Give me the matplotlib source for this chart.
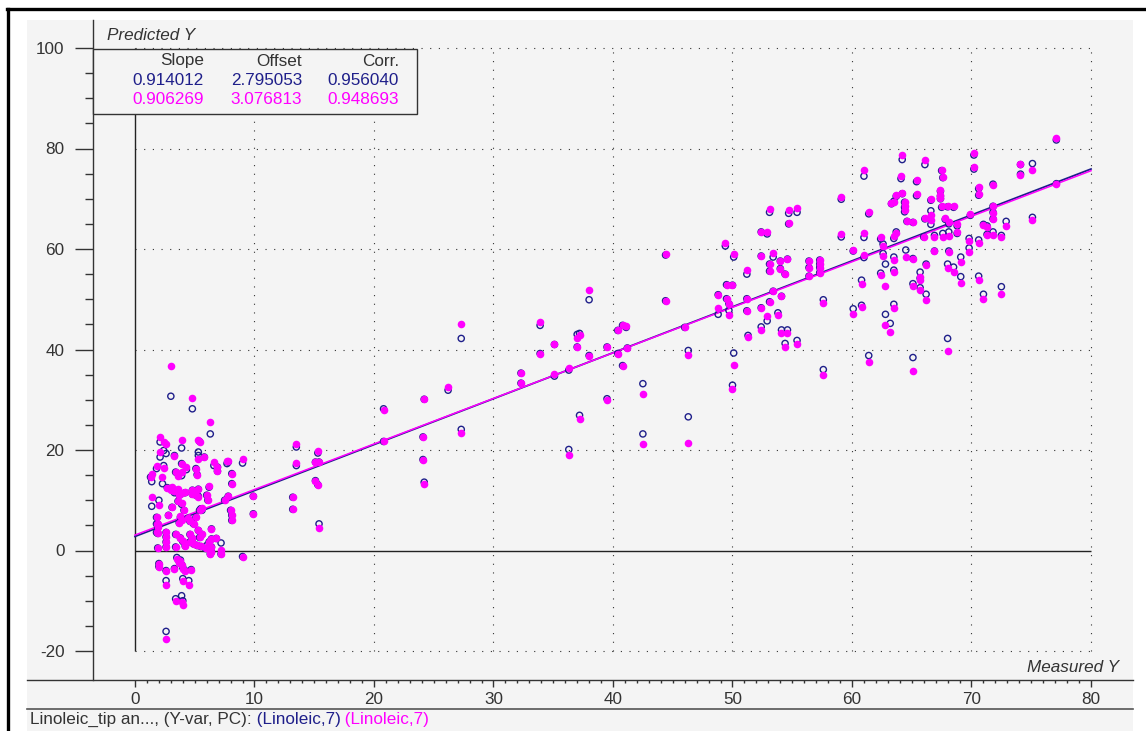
import numpy as np
import matplotlib.pyplot as plt
from matplotlib.lines import Line2D
from matplotlib.patches import Rectangle

plt.rcParams['font.family'] = ['Liberation Sans', 'DejaVu Sans']
plt.rcParams['axes.unicode_minus'] = False

# measured vs predicted, cluster of low values (x < 10)
meas_low = [3.0, 4.8, 6.3, 2.1, 2.4, 2.6, 3.9, 5.3, 5.4, 2.1,
            3.3, 5.8, 5.3, 1.8, 2.4, 1.4, 2.3, 3.4, 3.9, 3.6,
            3.9, 4.3, 5.1, 5.2, 6.6, 6.9, 6.9, 6.2, 7.7, 7.8,
            8.1, 8.1, 2.7, 3.0, 3.3, 3.6, 3.9, 3.7, 4.2, 3.1,
            4.8, 4.8, 5.1, 5.3, 5.3, 6.0, 6.1, 1.4, 2.0, 3.1,
            3.6, 3.9, 4.1, 3.8, 3.9, 3.7, 2.8, 1.9, 1.9, 1.9,
            1.9, 2.6, 2.6, 2.6, 2.6, 3.4, 3.4, 3.8, 4.0, 4.2,
            4.4, 4.6, 4.9, 5.1, 5.4, 5.5, 5.6, 5.3, 5.6, 5.4,
            4.6, 4.8, 4.6, 4.9, 5.2, 5.5, 5.9, 6.0, 6.3, 6.3,
            6.4, 6.4, 6.2, 6.4, 6.4, 7.2, 7.2, 6.8, 8.0, 8.1,
            8.1, 7.8, 7.5, 9.0, 2.0, 2.0, 2.6, 3.3, 3.5, 3.7,
            3.9, 4.0, 4.2, 3.8, 4.7, 4.0, 4.5, 2.6, 3.4, 3.9,
            4.0, 2.6, 1.3, 1.8, 1.8, 1.8]
pred1_low = [30.7, 28.2, 23.2, 21.6, 19.9, 19.3, 20.4, 19.6, 21.7, 18.6,
             18.9, 18.6, 18.9, 16.3, 16.9, 13.7, 13.3, 15.6, 14.9, 15.2,
             17.3, 16.1, 16.3, 15.1, 16.9, 16.6, 15.8, 12.6, 17.3, 17.6,
             15.3, 13.3, 12.5, 12.2, 11.5, 12.0, 11.3, 11.0, 11.5, 12.4,
             12.0, 11.2, 11.0, 12.2, 10.8, 11.0, 10.0, 8.8, 10.0, 8.6,
             9.8, 9.2, 8.0, 6.6, 6.2, 5.5, 7.0, 5.3, 4.6, 3.4,
             0.5, 3.6, 2.7, 1.7, 0.7, 3.2, 0.7, 2.5, 1.8, 0.9,
             6.4, 5.8, 5.3, 6.6, 8.0, 8.3, 8.0, 4.0, 3.2, 2.6,
             3.2, 2.4, 1.7, 1.3, 1.0, 0.8, 0.4, 1.0, 0.0, -0.7,
             2.3, 4.3, 1.7, 0.7, -0.3, 1.5, -0.7, 2.4, 8.0, 7.0,
             6.0, 10.8, 10.0, -1.2, -2.6, -3.2, -4.0, -3.6, -1.4, -2.2,
             -2.8, -3.4, -4.0, -1.9, -3.8, -5.6, -6.0, -6.0, -9.6, -9.0,
             -10.0, -16.1, 14.6, 6.6, 5.3, 3.6]
pred2_low = [36.7, 30.4, 25.6, 22.6, 21.6, 21.1, 21.9, 21.9, 21.5, 19.6,
             18.9, 18.6, 18.3, 16.9, 16.5, 15.3, 14.6, 15.6, 15.6, 14.9,
             17.3, 16.6, 16.3, 15.1, 17.6, 16.6, 15.8, 12.9, 17.9, 17.9,
             15.3, 13.3, 12.5, 12.0, 11.8, 12.2, 11.5, 11.0, 11.6, 12.7,
             12.0, 11.3, 11.0, 12.3, 10.7, 11.0, 10.0, 10.6, 9.0, 8.6,
             9.8, 9.4, 8.0, 6.8, 6.0, 5.5, 7.0, 5.3, 4.6, 3.4,
             0.5, 3.6, 2.7, 1.7, 0.7, 3.2, 0.7, 2.5, 1.8, 0.9,
             6.4, 5.8, 5.3, 6.6, 8.0, 8.2, 8.4, 4.0, 3.2, 2.6,
             3.2, 2.4, 1.7, 1.3, 1.0, 0.8, 0.4, 0.6, 0.0, -0.7,
             2.3, 4.3, 1.7, 0.7, -0.3, 0.1, -0.7, 2.4, 8.0, 7.0,
             6.0, 10.8, 10.0, -1.2, -2.6, -3.2, -4.0, -3.6, -1.6, -2.4,
             -2.9, -3.6, -4.0, -2.1, -3.8, -6.0, -6.8, -6.8, -10.0, -10.3,
             -10.8, -17.6, 14.6, 6.6, 5.3, 3.6]

# 9 < x < 47
meas_mid = [9.0, 9.9, 9.9, 13.5, 13.5, 13.2, 13.2, 15.3, 15.1, 15.4,
            15.1, 15.3, 15.4, 20.8, 20.8, 24.2, 24.1, 24.1, 24.2, 26.2,
            27.3, 27.3, 44.4, 44.4, 38.0, 33.9, 37.0, 37.2, 35.1, 33.9,
            37.0, 38.0, 39.5, 40.4, 40.8, 41.1, 41.2, 40.4, 40.8, 35.1,
            36.3, 32.3, 32.3, 39.5, 42.5, 37.2, 42.5, 36.3, 46.0, 46.3,
            46.3]
pred1_mid = [17.4, 10.8, 7.3, 20.6, 16.9, 10.6, 8.2, 19.4, 17.6, 17.6,
             13.9, 13.1, 5.3, 28.2, 21.7, 30.1, 22.6, 18.1, 13.6, 31.9,
             24.1, 42.2, 58.8, 49.7, 49.9, 44.8, 43.0, 43.2, 41.0, 39.2,
             40.5, 38.8, 40.5, 43.8, 44.8, 44.4, 40.3, 39.2, 36.8, 34.7,
             35.9, 35.3, 33.3, 30.2, 33.2, 26.9, 23.2, 20.1, 44.4, 39.8,
             26.6]
pred2_mid = [18.3, 10.8, 7.3, 21.1, 17.4, 10.6, 8.2, 19.8, 17.6, 17.6,
             13.9, 13.1, 4.4, 28.0, 21.7, 30.1, 22.6, 18.1, 13.3, 32.5,
             23.4, 45.0, 59.0, 49.7, 51.8, 45.5, 42.3, 42.8, 41.0, 39.2,
             40.5, 38.8, 40.5, 43.8, 44.8, 44.6, 40.3, 39.2, 36.8, 35.2,
             36.4, 35.3, 33.3, 29.9, 31.2, 26.2, 21.1, 19.1, 44.4, 39.0,
             21.3]

# 47 < x < 60
meas_upper = [49.4, 50.1, 52.4, 52.9, 53.1, 54.7, 55.4, 54.7, 59.1, 59.1,
              52.4, 53.4, 54.0, 54.0, 54.6, 53.1, 53.1, 54.4, 51.2, 56.4,
              56.4, 56.4, 57.3, 57.3, 57.3, 57.3, 49.5, 50.0, 48.8, 49.5,
              49.7, 48.8, 49.7, 51.2, 51.2, 52.4, 53.1, 53.4, 54.1, 53.8,
              52.9, 52.4, 54.1, 54.6, 51.3, 54.4, 55.4, 57.6, 57.6, 50.1,
              50.0]
pred1_upper = [60.6, 58.4, 63.4, 63.0, 67.3, 67.1, 67.3, 65.0, 69.9, 62.4,
               58.6, 58.4, 57.6, 56.1, 58.0, 57.0, 55.6, 55.0, 55.0, 57.6,
               56.3, 54.6, 57.8, 57.0, 56.3, 55.3, 52.9, 52.8, 50.9, 50.1,
               49.1, 47.0, 47.8, 50.1, 47.7, 48.3, 49.5, 51.6, 50.6, 47.3,
               45.7, 44.5, 43.9, 43.9, 42.8, 41.2, 41.8, 49.9, 36.0, 39.3,
               32.9]
pred2_upper = [61.2, 59.0, 63.4, 63.4, 67.9, 67.7, 68.2, 65.2, 70.3, 62.9,
               58.6, 59.2, 57.6, 56.1, 58.0, 57.0, 55.6, 55.0, 55.8, 57.6,
               56.3, 54.6, 57.8, 57.0, 56.3, 55.3, 52.9, 52.8, 50.9, 50.1,
               49.1, 48.3, 46.8, 50.1, 47.7, 48.3, 49.5, 51.6, 50.6, 46.8,
               46.6, 43.9, 43.3, 43.3, 42.4, 40.5, 41.0, 49.3, 34.9, 36.9,
               32.2]

# x > 60
meas_high = [61.0, 64.2, 66.1, 70.2, 70.2, 74.1, 74.1, 75.1, 64.1, 65.4,
             67.5, 67.6, 63.7, 64.2, 63.3, 63.5, 65.4, 64.4, 64.4, 64.4,
             66.6, 67.4, 67.4, 67.4, 61.4, 66.6, 66.1, 64.6, 65.1, 66.6,
             67.8, 67.5, 68.0, 68.5, 68.1, 68.8, 71.8, 71.8, 71.8, 70.6,
             70.6, 71.8, 69.9, 71.0, 71.3, 72.9, 71.8, 71.3, 72.5, 75.1,
             68.8, 68.1, 67.6, 66.9, 66.0, 63.7, 63.5, 62.4, 62.6, 61.0,
             60.1, 61.0, 62.6, 63.5, 64.5, 65.1, 66.9, 68.1, 69.1, 69.8,
             69.8, 70.6, 66.2, 62.8, 62.4, 63.5, 65.7, 65.7, 65.7, 65.1,
             68.0, 68.5, 69.1, 70.6, 60.8, 60.8, 60.1, 66.2, 63.5, 62.8,
             63.2, 71.0, 72.5, 61.4, 65.1, 68.0, 77.1, 77.1]
pred1_high = [74.5, 77.8, 76.8, 78.7, 75.9, 76.8, 74.9, 77.0, 74.0, 73.4,
              75.6, 74.2, 70.5, 71.0, 69.0, 69.5, 70.6, 69.3, 68.3, 67.4,
              69.7, 71.5, 70.5, 70.0, 67.0, 67.6, 66.0, 65.5, 65.3, 64.9,
              65.9, 68.3, 68.4, 68.3, 65.0, 64.6, 68.5, 67.3, 66.0, 72.0,
              70.7, 72.9, 66.7, 64.9, 64.6, 65.5, 63.4, 62.9, 62.7, 66.3,
              63.1, 63.4, 63.1, 62.7, 62.4, 63.4, 62.1, 62.0, 61.0, 62.3,
              59.6, 58.3, 59.1, 58.4, 59.8, 58.1, 59.6, 59.6, 58.4, 62.1,
              60.2, 61.8, 57.0, 57.0, 55.2, 55.8, 55.4, 54.2, 52.3, 53.1,
              57.0, 56.4, 54.5, 54.6, 53.8, 48.8, 48.1, 51.0, 49.0, 47.0,
              45.2, 51.0, 52.5, 38.8, 38.4, 42.2, 81.7, 73.0]
pred2_high = [75.7, 78.8, 77.7, 79.2, 76.4, 77.0, 74.7, 75.7, 74.5, 73.7,
              75.8, 74.4, 70.7, 71.2, 69.2, 69.3, 70.9, 69.4, 68.5, 67.7,
              69.9, 71.7, 70.7, 70.1, 67.3, 66.7, 66.2, 65.5, 65.3, 65.7,
              66.1, 68.5, 68.5, 68.5, 65.3, 64.9, 68.5, 67.1, 65.9, 72.3,
              70.9, 72.7, 66.9, 64.7, 64.4, 64.5, 62.7, 62.7, 62.3, 65.7,
              63.3, 62.6, 62.3, 62.3, 62.4, 63.1, 62.5, 62.3, 60.6, 63.2,
              59.8, 58.8, 58.6, 57.8, 58.4, 58.0, 59.6, 59.4, 57.4, 61.6,
              59.4, 61.2, 56.8, 52.7, 54.8, 55.4, 54.5, 53.8, 51.8, 52.7,
              56.2, 55.4, 53.3, 53.9, 53.1, 48.5, 47.0, 49.8, 48.3, 44.8,
              43.4, 50.0, 51.0, 37.5, 35.7, 39.8, 82.0, 73.0]

stats_header = ['Slope', 'Offset', 'Corr.']
stats_blue = [0.914012, 2.795053, 0.956040]
stats_mag = [0.906269, 3.076813, 0.948693]

BLUE = '#1f1f8a'
MAG = '#ff00ff'
DARK = '#333333'
PANEL = '#f4f4f4'
FS = 12.3

meas = meas_low + meas_mid + meas_upper + meas_high
pred1 = pred1_low + pred1_mid + pred1_upper + pred1_high
pred2 = pred2_low + pred2_mid + pred2_upper + pred2_high

W, H = 1146, 731
# pixel scale of the reference window
X0_PX, X_PPU = 135.0, 11.95
Y0_PX, Y_PPU = 550.5, 5.025


def px2x(px):
    return (px - X0_PX) / X_PPU


def py2y(py):
    return (Y0_PX - py) / Y_PPU


fig = plt.figure(figsize=(W / 100, H / 100), dpi=100)
fig.patch.set_facecolor('white')
fig.add_artist(Rectangle((27 / W, 0), (1133 - 27) / W, 1 - 20 / H,
                         transform=fig.transFigure, fc=PANEL, ec='none', zorder=0))
fig.add_artist(Line2D([7 / W, 1], [1 - 9 / H, 1 - 9 / H], color='black', lw=2.4))
fig.add_artist(Line2D([7.5 / W, 7.5 / W], [0, 1 - 9 / H], color='black', lw=2.4))
fig.add_artist(Line2D([27 / W, 1133 / W], [1 - 708.5 / H, 1 - 708.5 / H], color='#555555', lw=1.2))

ax = fig.add_axes([27 / W, 1 - 708 / H, (1133 - 27) / W, (708 - 20) / H])
ax.set_facecolor('none')
ax.set_xlim(px2x(27), px2x(1133))
ax.set_ylim(py2y(708), py2y(20))

for side in ('top', 'right'):
    ax.spines[side].set_visible(False)
ax.spines['left'].set_position(('data', px2x(93)))
ax.spines['left'].set_bounds(py2y(680), py2y(20))
ax.spines['bottom'].set_position(('data', py2y(680)))
ax.spines['bottom'].set_bounds(px2x(27), px2x(1133))
for side in ('left', 'bottom'):
    ax.spines[side].set_color(DARK)
    ax.spines[side].set_linewidth(1.0)

ax.set_xticks(range(0, 81, 10))
ax.set_xticks(range(0, 81, 1), minor=True)
ax.set_yticks(range(-20, 101, 20))
ax.set_yticks(range(-20, 101, 5), minor=True)
ax.tick_params(axis='y', which='major', length=13, width=1, color=DARK, pad=7.5,
               labelsize=FS, labelcolor=DARK)
ax.tick_params(axis='y', which='minor', length=5.8, width=1, color=DARK)
ax.tick_params(axis='x', which='major', length=5, width=1, color=DARK, pad=3.5,
               labelsize=FS, labelcolor=DARK)
ax.tick_params(axis='x', which='minor', length=2.2, width=1, color=DARK)

# dotted grid inside [0, 80] x [-20, 100]
dots = (0, (1, 6.8))
ax.vlines(range(10, 81, 10), -20, 100, colors=DARK, linestyles=dots, lw=0.8, zorder=1)
ax.hlines([-20, 20, 40, 60, 80, 100], 0, 80, colors=DARK, linestyles=dots, lw=0.8, zorder=1)
ax.vlines(0, -20, 100, colors='#222222', lw=1.0, zorder=1)
ax.hlines(0, 0, 80, colors='#222222', lw=1.0, zorder=1)

xs = np.array([0.0, 80.0])
ax.plot(xs, stats_blue[0] * xs + stats_blue[1], color=BLUE, lw=1.3, zorder=2)
ax.plot(xs, stats_mag[0] * xs + stats_mag[1], color=MAG, lw=1.1, zorder=2)

ax.scatter(meas, pred1, s=20, facecolors='none', edgecolors=BLUE, linewidths=1.0, zorder=3)
ax.scatter(meas, pred2, s=30, color=MAG, lw=0, zorder=4)

# statistics box
ax.add_patch(Rectangle((px2x(93), py2y(114)), (417 - 93) / X_PPU, (114 - 49) / Y_PPU,
                       fc=PANEL, ec=DARK, lw=1.0, zorder=6))
col_px = [204, 302, 399]
for cx, head, vb, vm in zip(col_px, stats_header, stats_blue, stats_mag):
    ax.text(px2x(cx), py2y(61), head, ha='right', va='center', fontsize=FS, color=DARK, zorder=7)
    ax.text(px2x(cx), py2y(80), f'{vb:.6f}', ha='right', va='center', fontsize=FS, color=BLUE, zorder=7)
    ax.text(px2x(cx), py2y(99), f'{vm:.6f}', ha='right', va='center', fontsize=FS, color=MAG, zorder=7)

ax.text(px2x(107), py2y(35), 'Predicted Y', ha='left', va='center', fontsize=FS,
        style='italic', color=DARK)
ax.text(px2x(1119), py2y(667), 'Measured Y', ha='right', va='center', fontsize=FS,
        style='italic', color=DARK)

t1 = ax.text(px2x(30), py2y(719), 'Linoleic_tip an..., (Y-var, PC):', ha='left', va='center',
             fontsize=FS, color=DARK, clip_on=False)
t2 = ax.annotate(' (Linoleic,7)', xy=(1, 0), xycoords=t1, ha='left', va='bottom',
                 fontsize=FS, color=BLUE)
ax.annotate(' (Linoleic,7)', xy=(1, 0), xycoords=t2, ha='left', va='bottom',
            fontsize=FS, color=MAG)

fig.savefig('out.png', dpi=100)
